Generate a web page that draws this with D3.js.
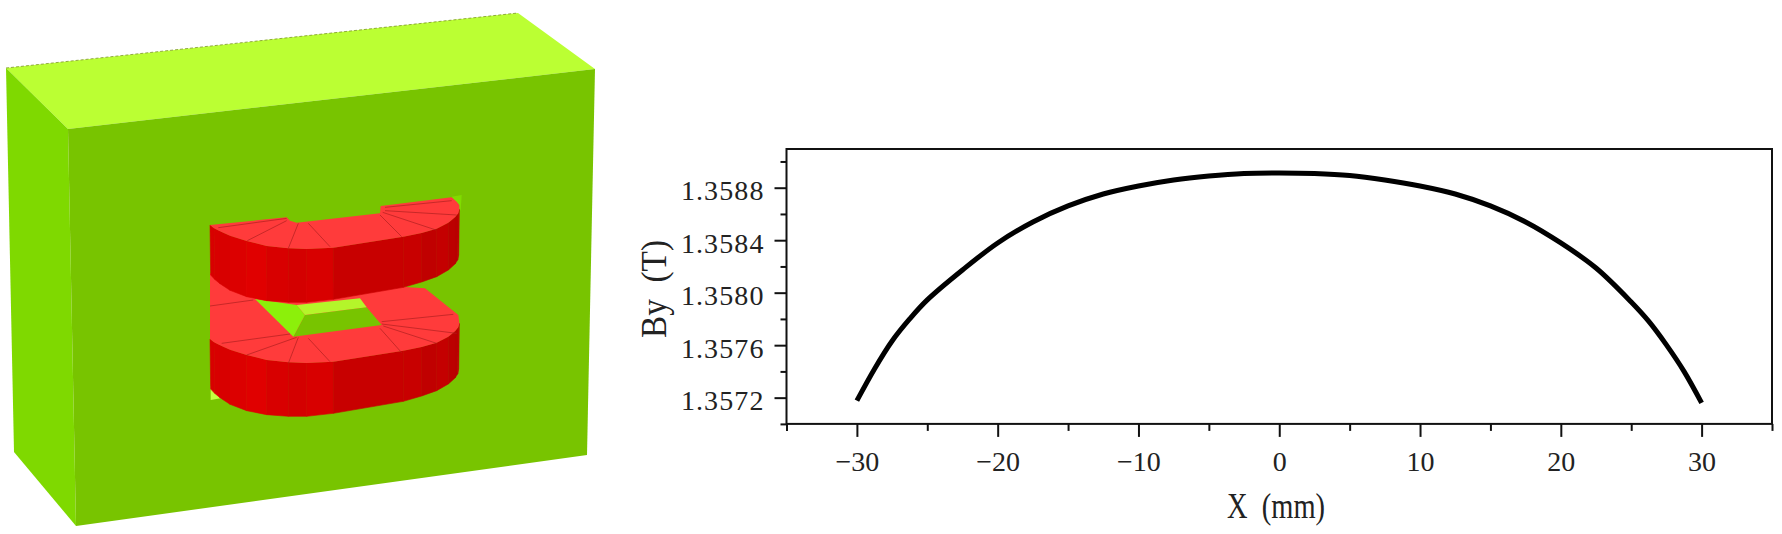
<!DOCTYPE html>
<html>
<head>
<meta charset="utf-8">
<script src="https://cdn.jsdelivr.net/npm/d3@7/dist/d3.min.js"></script>
<style>
html,body{margin:0;padding:0;background:#fff;overflow:hidden}
svg{display:block}
text{font-family:"Liberation Serif",serif;fill:#222}
</style>
</head>
<body>
<svg id="c" width="1782" height="534"></svg>
<script>
// ---- chart data ----
const xVals = [-30,-28.75,-27.5,-26.25,-25,-22.5,-20,-17.5,-15,-12.5,-10,-7.5,-5,-2.5,0,2.5,5,7.5,10,12.5,15,17.5,20,22.5,25,26.25,27.5,28.75,30];
const byVals = [1.357177,1.357419,1.357632,1.3578,1.357945,1.358173,1.358379,1.358539,1.358661,1.358752,1.358813,1.358859,1.358889,1.358908,1.358912,1.358908,1.358893,1.358859,1.358813,1.358752,1.358661,1.358539,1.358379,1.358188,1.357929,1.357781,1.357602,1.3574,1.35716];
const xTicks = [-30,-20,-10,0,10,20,30];
const xMinor = [-35,-25,-15,-5,5,15,25,35];
const yTicks = [1.3572,1.3576,1.3580,1.3584,1.3588];
const yMinor = [1.3570,1.3574,1.3578,1.3582,1.3586,1.3590];
const xTitle = "X\u00a0\u00a0(mm)";
const yTitle = "By\u00a0\u00a0(T)";

// ---- illustration outlines (drawing units) ----
const boxTop = [[6,68],[518,13],[595,69],[68,129]];
const boxSide = [[6,68],[68,129],[76,526],[14,452]];
const boxFront = [[68,129],[595,69],[587,455],[76,526]];
const arcTop = [[60,135],[72,145],[90,154],[120,167],[170,183],[230,198],[295,205],[350,207],[430,203],[640,170],[695,159],[740,146],[775,128],[795,112],[805,100],[808,88]];
const arcBottom = [[62,285],[74,298],[90,311],[120,331],[170,350],[230,362],[295,367],[350,367],[430,358],[640,322],[695,306],[740,290],[775,270],[795,252],[803,240],[806,225]];
const facetShades = ["#d80000","#d80000","#d80000","#dc0000","#e00000","#d80000","#d40000","#d80000","#c80000","#c80000","#c00000","#c40000","#bc0000","#b80000","#c00000"];
const coilBack = [[808,75],[800,65],[785,52],[572,78],[570,100],[320,128],[300,122],[290,112]];
const lowerBack = [[805,405],[705,325],[300,300],[60,280]];
const lowerShift = 342;
const upperLines = [[[85,143],[290,115]],[[290,122],[172,182]],[[325,130],[295,205]],[[355,130],[420,200]],[[570,105],[635,170]],[[578,97],[738,150]],[[585,92],[800,105]],[[585,82],[785,62]]];
const lowerLines = [[[95,490],[300,462]],[[170,525],[320,472]],[[295,550],[325,472]],[[420,545],[355,475]],[[635,518],[570,445]],[[740,490],[580,438]],[[800,460],[575,432]],[[790,403],[575,425]],[[60,378],[190,360]]];
const holeLeft = [[195,357],[320,375],[345,405],[310,470]];
const holeTop = [[320,375],[510,355],[530,382],[345,405]];
const holeFront = [[345,405],[530,382],[575,435],[310,470]];
const cornerBright = [[785,50],[815,45],[812,92]];
const cornerPale = [[62,618],[62,660],[92,655]];

const svg = d3.select("#c");

// ---- illustration ----
const ux = d3.scaleLinear([0,900],[190,490]);
const uy = d3.scaleLinear([0,750],[180,430]);
const boxPath = d3.line();
const coilPath = d3.line().x(d => ux(d[0])).y(d => uy(d[1]));
const art = svg.append("g");
art.append("path").attr("d", boxPath(boxTop)+"Z").attr("fill","#bbff33");
art.append("path").attr("d", boxPath(boxSide)+"Z").attr("fill","#7fd900");
art.append("path").attr("d", boxPath(boxFront)+"Z").attr("fill","#78c400");
art.append("path").attr("d", boxPath([boxTop[0],boxTop[1]])).attr("fill","none").attr("stroke","#7d9428").attr("stroke-width",0.8).attr("stroke-dasharray","3 2");
art.append("path").attr("d", coilPath(cornerBright)+"Z").attr("fill","#80dc00");
art.append("path").attr("d", coilPath(cornerPale)+"Z").attr("fill","#c4ff40");

const shift = (pts,dy) => pts.map(p => [p[0],p[1]+dy]);
function sides(dy){
  facetShades.forEach((c,i) => {
    const poly = [arcTop[i],arcTop[i+1],arcBottom[i+1],arcBottom[i]].map(p => [p[0],p[1]+dy]);
    art.append("path").attr("d", coilPath(poly)+"Z").attr("fill",c).attr("stroke",c).attr("stroke-width",0.6);
  });
}
function lines(list){
  list.forEach(l => art.append("path").attr("d",coilPath(l)).attr("stroke","#b02020").attr("stroke-width",0.7).attr("fill","none"));
}
// lower coil
sides(lowerShift);
art.append("path").attr("d", coilPath(shift(arcTop,lowerShift).concat(lowerBack))+"Z").attr("fill","#ff3b3b");
art.append("path").attr("d", coilPath(holeFront)+"Z").attr("fill","#78c400");
art.append("path").attr("d", coilPath(holeLeft)+"Z").attr("fill","#8cf00a");
art.append("path").attr("d", coilPath(holeTop)+"Z").attr("fill","#b4f52a");
lines(lowerLines);
// upper coil
sides(0);
art.append("path").attr("d", coilPath(arcTop.concat(coilBack))+"Z").attr("fill","#ff3b3b");
lines(upperLines);

// ---- plot ----
const x = d3.scaleLinear([-35,35],[786.5,1772]);
const y = d3.scaleLinear([1.3570,1.359095],[423.9,149]);
const plot = svg.append("g");

function styleAxis(g){
  g.select(".domain").remove();
  g.selectAll("line").attr("stroke","#111").attr("stroke-width",2);
  g.selectAll("text").attr("font-size",28).attr("fill","#222");
}
plot.append("g").attr("transform","translate(0,423.9)")
  .call(d3.axisBottom(x).tickValues(xTicks).tickSize(13).tickSizeOuter(0).tickPadding(14).tickFormat(d => d3.format("d")(d).replace("-","\u2212")))
  .call(styleAxis);
plot.append("g").attr("transform","translate(0,423.9)")
  .call(d3.axisBottom(x).tickValues(xMinor).tickSize(7).tickSizeOuter(0).tickFormat(""))
  .call(styleAxis);
plot.append("g").attr("class","yt").attr("transform","translate(786.5,0)")
  .call(d3.axisLeft(y).tickValues(yTicks).tickSize(12).tickSizeOuter(0).tickPadding(10).tickFormat(d3.format(".4f")))
  .call(styleAxis)
  .call(g => g.selectAll("text").attr("dy","0.43em").style("letter-spacing","1.1px"));
plot.append("g").attr("transform","translate(786.5,0)")
  .call(d3.axisLeft(y).tickValues(yMinor).tickSize(6).tickSizeOuter(0).tickFormat(""))
  .call(styleAxis);
plot.append("rect").attr("x",x(-35)).attr("y",y.range()[1]).attr("width",x(35)-x(-35)).attr("height",y.range()[0]-y.range()[1])
  .attr("fill","none").attr("stroke","#111").attr("stroke-width",2);

const line = d3.line().x(d => x(d[0])).y(d => y(d[1])).curve(d3.curveCatmullRom);
plot.append("path").attr("d", line(d3.zip(xVals,byVals))).attr("fill","none").attr("stroke","#000").attr("stroke-width",5).attr("stroke-linejoin","round");

plot.append("text").attr("x",1276).attr("y",518).attr("text-anchor","middle").attr("font-size",36)
  .attr("textLength",98).attr("lengthAdjust","spacingAndGlyphs").text(xTitle);
plot.append("text").attr("transform","translate(666,289) rotate(-90)").attr("text-anchor","middle").attr("font-size",36)
  .attr("textLength",98).attr("lengthAdjust","spacingAndGlyphs").text(yTitle);
</script>
</body>
</html>
